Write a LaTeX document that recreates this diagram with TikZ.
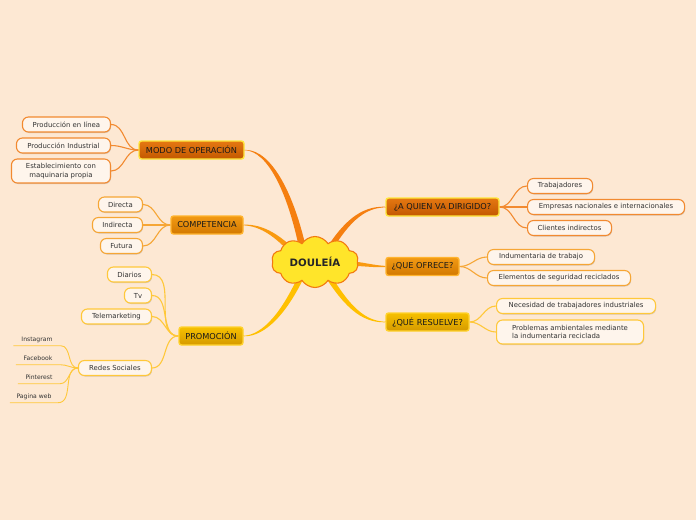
\documentclass[tikz,border=0pt]{standalone}
\usepackage{fontspec}
\setmainfont{DejaVu Sans}
\usetikzlibrary{shapes.symbols,calc,shadows}
\definecolor{bg}{HTML}{FDE8D3}
\definecolor{subfill}{HTML}{FEF5EC}
\definecolor{cA}{HTML}{F57F10}
\definecolor{cAs}{HTML}{F28A30}
\definecolor{cB}{HTML}{F99A10}
\definecolor{cBs}{HTML}{F6A635}
\definecolor{cC}{HTML}{FFC000}
\definecolor{cCs}{HTML}{FFC83A}
\definecolor{txt}{HTML}{333333}
\definecolor{tAtop}{HTML}{E57812}
\definecolor{tAbot}{HTML}{C25800}
\definecolor{tAbrd}{HTML}{FFE63A}
\definecolor{tBbrd}{HTML}{FFB42E}
\definecolor{tBtop}{HTML}{F29A14}
\definecolor{tBbot}{HTML}{D27800}
\definecolor{tCbrd}{HTML}{FFD22E}
\definecolor{tCtop}{HTML}{F6C000}
\definecolor{tCbot}{HTML}{D59A00}
\definecolor{cloudfill}{HTML}{FFE52A}
\definecolor{cloudline}{HTML}{F27A10}
\newcommand{\taper}[6]{%
  \fill[#1] ($#2-0.2*#6$) .. controls ($#3-0.45*#6$) and ($#4-0.85*#6$) .. ($#5-#6$)
    -- ($#5+#6$) .. controls ($#4+0.85*#6$) and ($#3+0.45*#6$) .. ($#2+0.2*#6$) -- cycle;}
\tikzset{
  topic/.style={rounded corners=2.5pt, line width=1.4pt, minimum height=18pt,
    inner sep=0pt, font=\fontsize{8.2}{9}\selectfont, text=black!90},
  topicA/.style={topic, draw=tAbrd, top color=tAtop, bottom color=tAbot},
  topicB/.style={topic, draw=tBbrd, top color=tBtop, bottom color=tBbot},
  topicC/.style={topic, draw=tCbrd, top color=tCtop, bottom color=tCbot},
  sub/.style={rounded corners=6pt, line width=1.1pt, fill=subfill, minimum height=15pt,
    inner sep=0pt, font=\fontsize{6.9}{8.7}\selectfont, text=txt,
    drop shadow={shadow xshift=0.6pt, shadow yshift=-1pt, opacity=0.25, fill=black!60}},
  subA/.style={sub, draw=cAs},
  subB/.style={sub, draw=cBs},
  subC/.style={sub, draw=cCs},
  leaf/.style={inner sep=0pt, minimum height=12pt, font=\fontsize{6.1}{7}\selectfont, text=txt},
  linkA/.style={draw=cAs, line width=1.1pt},
  linkB/.style={draw=cBs, line width=1.1pt},
  linkC/.style={draw=cCs, line width=1.1pt},
}
\begin{document}
\begin{tikzpicture}[x=1pt,y=-1pt]
\fill[bg] (0,0) rectangle (696,520);
\useasboundingbox (0,0) rectangle (696,520);

% main topics
\node[topicA, minimum width=105pt] (modo) at (191.5,150) {MODO DE OPERACIÓN};
\node[topicB, minimum width=72pt] (comp) at (207,225) {COMPETENCIA};
\node[topicC, minimum width=64pt] (promo) at (211,336) {PROMOCIÓN};
\node[topicA, minimum width=113pt] (quien) at (442.5,207) {¿A QUIEN VA DIRIGIDO?};
\node[topicB, minimum width=73pt] (ofrece) at (422.5,266.5) {¿QUE OFRECE?};
\node[topicC, minimum width=83pt] (resuelve) at (427.5,322) {¿QUÉ RESUELVE?};

\coordinate (cc) at (315,262);
% tapered main branches
\taper{cA}{(modo.east)}{(270,150)}{(292,195)}{(304,255)}{(3.4,-0.7)}
\taper{cB}{(comp.east)}{(262,225)}{(280,236)}{(302,262)}{(2.4,-1.8)}
\taper{cC}{(promo.east)}{(264,336)}{(286,312)}{(305,268)}{(2.7,1.3)}
\taper{cA}{(quien.west)}{(362,207)}{(345,222)}{(324,258)}{(2.6,1.6)}
\taper{cB}{(ofrece.west)}{(370,266.5)}{(355,262)}{(322,262)}{(0,3)}
\taper{cC}{(resuelve.west)}{(362,322)}{(345,305)}{(322,266)}{(2.6,-1.5)}

% central cloud
\node[cloud, cloud puffs=10, cloud puff arc=115, aspect=1.75, draw=cloudline, line width=1.1pt,
  fill=cloudfill, minimum width=87pt, minimum height=50pt, inner sep=0pt,
  font=\fontsize{10.2}{12}\selectfont\bfseries, text=black!85] (center) at (cc) {DOULEÍA};

% MODO children
\node[subA, anchor=east, minimum width=88pt] (p1) at (111,124.5) {Producción en línea};
\node[subA, anchor=east, minimum width=94pt] (p2) at (111,145.5) {Producción Industrial};
\node[subA, anchor=east, minimum width=99pt, minimum height=24pt, align=center] (p3) at (111,171) {Establecimiento con\\maquinaria propia};
% COMP children
\node[subB, anchor=east, minimum width=44pt] (c1) at (143,204.5) {Directa};
\node[subB, anchor=east, minimum width=50pt] (c2) at (143,225) {Indirecta};
\node[subB, anchor=east, minimum width=42pt] (c3) at (143,246) {Futura};
% PROMO children
\node[subC, anchor=east, minimum width=44pt] (d1) at (152,274.5) {Diarios};
\node[subC, anchor=east, minimum width=27pt] (d2) at (152,295.5) {Tv};
\node[subC, anchor=east, minimum width=70pt] (d3) at (152,316.5) {Telemarketing};
\node[subC, anchor=east, minimum width=73pt] (d4) at (152,368) {Redes Sociales};
% Redes leaves
\node[leaf, minimum width=47pt] (l1) at (37,339.5) {Instagram};
\node[leaf, minimum width=44pt] (l2) at (38,358.5) {Facebook};
\node[leaf, minimum width=42pt] (l3) at (39,377.5) {Pinterest};
\node[leaf, minimum width=48pt] (l4) at (34,396.5) {Pagina web};
% right children
\node[subA, anchor=west, minimum width=65pt] (q1) at (527,186) {Trabajadores};
\node[subA, anchor=west, minimum width=157pt] (q2) at (527,207) {Empresas nacionales e internacionales};
\node[subA, anchor=west, minimum width=84pt] (q3) at (527,228) {Clientes indirectos};
\node[subB, anchor=west, minimum width=107pt] (o1) at (487,257) {Indumentaria de trabajo};
\node[subB, anchor=west, minimum width=143pt] (o2) at (487,278) {Elementos de seguridad reciclados};
\node[subC, anchor=west, minimum width=159pt] (r1) at (496,306) {Necesidad de trabajadores industriales};
\node[subC, anchor=west, minimum width=147pt, minimum height=24pt, align=left] (r2) at (496,332) {Problemas ambientales mediante\\la indumentaria reciclada};

% sub connectors
\foreach \n in {p1,p2,p3} \draw[linkA] (modo.west) to[out=180,in=0] (\n.east);
\foreach \n in {c1,c2,c3} \draw[linkB] (comp.west) to[out=180,in=0] (\n.east);
\foreach \n in {d1,d2,d3,d4} \draw[linkC] (promo.west) to[out=180,in=0] (\n.east);
\foreach \n in {l1,l2,l3,l4} \draw[linkC, line width=0.9pt] (d4.west) to[out=180,in=0] (\n.south east) -- (\n.south west);
\foreach \n in {q1,q2,q3} \draw[linkA] (quien.east) to[out=0,in=180] (\n.west);
\foreach \n in {o1,o2} \draw[linkB] (ofrece.east) to[out=0,in=180] (\n.west);
\foreach \n in {r1,r2} \draw[linkC] (resuelve.east) to[out=0,in=180] (\n.west);
\end{tikzpicture}
\end{document}
